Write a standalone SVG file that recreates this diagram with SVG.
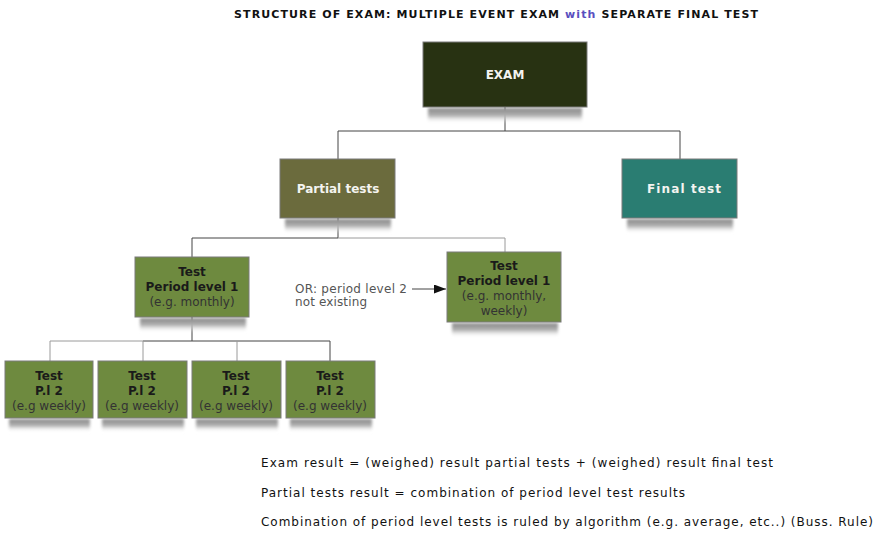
<svg xmlns="http://www.w3.org/2000/svg" width="880" height="533" viewBox="0 0 880 533">
<defs>
<linearGradient id="sh" x1="0" y1="0" x2="0" y2="1">
<stop offset="0" stop-color="#888"/>
<stop offset="0.5" stop-color="#b0b0b0"/>
<stop offset="1" stop-color="#ffffff" stop-opacity="0"/>
</linearGradient>
<filter id="bl" x="-10%" y="-50%" width="120%" height="200%"><feGaussianBlur stdDeviation="1.5"/></filter>
<marker id="ah" markerWidth="12" markerHeight="9" refX="12" refY="4.5" orient="auto" markerUnits="userSpaceOnUse">
<path d="M0,0 L12,4.5 L0,9 Z" fill="#111"/>
</marker>
</defs>
<style>
text{font-family:"DejaVu Sans",Verdana,sans-serif}
.t{font-size:11px;font-weight:bold;fill:#111}
.w{font-size:12px;font-weight:bold;fill:#f4f4f0}
.b{font-size:12px;font-weight:bold;fill:#1a1a1a}
.s{font-size:12px;fill:#333}
.g{font-size:12px;fill:#555}
.n{font-size:12px;fill:#111}
.sh{fill:url(#sh);filter:url(#bl)}
.bx{stroke:#7a7a7a;stroke-width:1}
.ln{stroke:#444;stroke-width:1;fill:none}
.lg{stroke:#9a9a9a;stroke-width:1;fill:none}
</style>
<rect width="880" height="533" fill="#fff"/>
<text class="t" x="234" y="18" textLength="524" lengthAdjust="spacing">STRUCTURE OF EXAM: MULTIPLE EVENT EXAM  <tspan fill="#5a4fbf">with</tspan> SEPARATE FINAL TEST</text>

<g id="connectors">
<path class="ln" d="M505,107 V131 M338,131 H680 M338,131 V159 M680,131 V159"/>
<path class="ln" d="M338,218 V238 M192,238 H338 M192,238 V257"/>
<path class="lg" d="M338,238 H505 V252"/>
<path class="ln" d="M192,317 V341 M143,341 H330 V361"/>
<path class="lg" d="M50,341 H143 M50,341 V361 M143,341 V361 M237,341 V361"/>
<line class="ln" x1="412" y1="289" x2="446" y2="289" marker-end="url(#ah)"/>
</g>

<g id="exam">
<rect class="sh" x="428" y="108" width="154" height="15"/>
<rect class="bx" x="423" y="42" width="164" height="65" fill="#283212"/>
<text class="w" x="505" y="79" text-anchor="middle">EXAM</text>
</g>
<g id="partial">
<rect class="sh" x="285" y="219" width="106" height="14"/>
<rect class="bx" x="280" y="159" width="115" height="59" fill="#6b6b3d"/>
<text class="w" x="338" y="193" text-anchor="middle">Partial tests</text>
</g>
<g id="final">
<rect class="sh" x="627" y="219" width="106" height="14"/>
<rect class="bx" x="622" y="159" width="115" height="59" fill="#2a7d72"/>
<text class="w" x="647" y="193" textLength="74" lengthAdjust="spacing">Final test</text>
</g>
<g id="p1a">
<rect class="sh" x="140" y="318" width="106" height="14"/>
<rect class="bx" x="135" y="257" width="114" height="60" fill="#6e8a3f"/>
<text class="b" x="192" y="276" text-anchor="middle">Test</text>
<text class="b" x="192" y="291" text-anchor="middle">Period level 1</text>
<text class="s" x="192" y="306" text-anchor="middle">(e.g. monthly)</text>
</g>
<g id="note">
<text class="g" x="295" y="293" textLength="112" lengthAdjust="spacing">OR: period level 2</text>
<text class="g" x="295" y="306" textLength="72" lengthAdjust="spacing">not existing</text>
</g>
<g id="p1b">
<rect class="sh" x="452" y="323" width="106" height="14"/>
<rect class="bx" x="447" y="252" width="114" height="70" fill="#6e8a3f"/>
<text class="b" x="504" y="270" text-anchor="middle">Test</text>
<text class="b" x="504" y="285" text-anchor="middle">Period level 1</text>
<text class="s" x="504" y="300" text-anchor="middle">(e.g. monthly,</text>
<text class="s" x="504" y="315" text-anchor="middle">weekly)</text>
</g>
<g id="p2a">
<rect class="sh" x="9" y="419" width="81" height="13"/>
<rect class="bx" x="5" y="361" width="88" height="57" fill="#6e8a3f"/>
<text class="b" x="49" y="380" text-anchor="middle">Test</text>
<text class="b" x="49" y="395" text-anchor="middle">P.l 2</text>
<text class="s" x="49" y="410" text-anchor="middle">(e.g weekly)</text>
</g>
<g id="p2b">
<rect class="sh" x="102" y="419" width="82" height="13"/>
<rect class="bx" x="98" y="361" width="89" height="57" fill="#6e8a3f"/>
<text class="b" x="142" y="380" text-anchor="middle">Test</text>
<text class="b" x="142" y="395" text-anchor="middle">P.l 2</text>
<text class="s" x="142" y="410" text-anchor="middle">(e.g weekly)</text>
</g>
<g id="p2c">
<rect class="sh" x="196" y="419" width="82" height="13"/>
<rect class="bx" x="192" y="361" width="89" height="57" fill="#6e8a3f"/>
<text class="b" x="236" y="380" text-anchor="middle">Test</text>
<text class="b" x="236" y="395" text-anchor="middle">P.l 2</text>
<text class="s" x="236" y="410" text-anchor="middle">(e.g weekly)</text>
</g>
<g id="p2d">
<rect class="sh" x="290" y="419" width="82" height="13"/>
<rect class="bx" x="286" y="361" width="89" height="57" fill="#6e8a3f"/>
<text class="b" x="330" y="380" text-anchor="middle">Test</text>
<text class="b" x="330" y="395" text-anchor="middle">P.l 2</text>
<text class="s" x="330" y="410" text-anchor="middle">(e.g weekly)</text>
</g>
<g id="legend">
<text class="n" x="261" y="467" textLength="512" lengthAdjust="spacing">Exam result = (weighed) result partial tests + (weighed) result final test</text>
<text class="n" x="261" y="497" textLength="424" lengthAdjust="spacing">Partial tests result = combination of period level test results</text>
<text class="n" x="261" y="526" textLength="612" lengthAdjust="spacing">Combination of period level tests is ruled by algorithm (e.g. average, etc..) (Buss. Rule)</text>
</g>
</svg>
